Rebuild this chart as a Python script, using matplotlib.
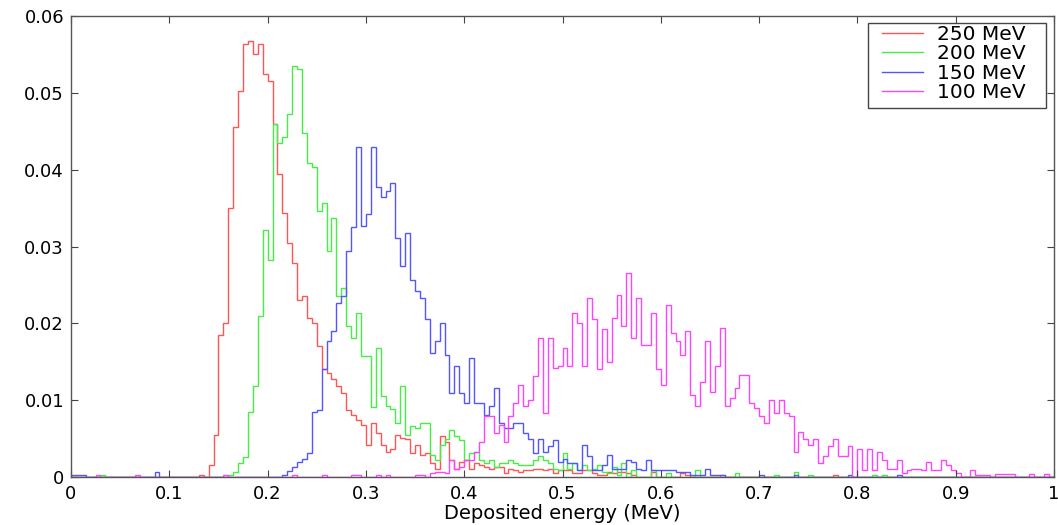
import matplotlib

matplotlib.use("Agg")

import matplotlib.pyplot as plt
import numpy as np
from matplotlib.legend_handler import HandlerLine2D
from matplotlib.lines import Line2D
from matplotlib.patches import Rectangle

N_BINS = 200
BIN_EDGES = np.linspace(0.0, 1.0, N_BINS + 1)

labels = ["250 MeV", "200 MeV", "150 MeV", "100 MeV"]
colors = ["#ff5555", "#44ee44", "#5555ff", "#ff44ff"]

# normalised counts per 0.005 MeV bin, listed from the first populated bin
red_start = 26
red_values = [
    0.0003, 0.0, 0.0015, 0.0055, 0.0185, 0.0200, 0.0350, 0.0455, 0.0502, 0.0563,
    0.0568, 0.0550, 0.0563, 0.0524, 0.0516, 0.0459, 0.0394, 0.0344, 0.0305, 0.0279,
    0.0230, 0.0235, 0.0207, 0.0200, 0.0170, 0.0140, 0.0135, 0.0127, 0.0118, 0.0109,
    0.0087, 0.0081, 0.0074, 0.0068, 0.0042, 0.0070, 0.0057, 0.0042, 0.0033, 0.0037,
    0.0055, 0.0051, 0.0049, 0.0031, 0.0042, 0.0029, 0.0031, 0.0018, 0.0010, 0.0053,
    0.0046, 0.0022, 0.0011, 0.0020, 0.0022, 0.0011, 0.0018, 0.0016, 0.0013, 0.0011,
    0.0013, 0.0013, 0.0005, 0.0011, 0.0009, 0.0007, 0.0009, 0.0009, 0.0011, 0.0011,
    0.0009, 0.0011, 0.0005, 0.0009, 0.0009, 0.0009, 0.0005, 0.0005, 0.0009, 0.0009,
    0.0005, 0.0003, 0.0003, 0.0007, 0.0005, 0.0007, 0.0007, 0.0005, 0.0003, 0.0,
    0.0, 0.0, 0.0006, 0.0, 0.0, 0.0, 0.0, 0.0, 0.0005, 0.0003,
]
red_single_bins = [132, 155]
red_single_values = [0.0003, 0.0003]

green_start = 32
green_values = [
    0.0003, 0.0007, 0.0018, 0.0026, 0.0085, 0.0118, 0.0209, 0.0322, 0.0283, 0.0459,
    0.0435, 0.0442, 0.0472, 0.0535, 0.0531, 0.0448, 0.0409, 0.0404, 0.0346, 0.0357,
    0.0294, 0.0337, 0.0235, 0.0246, 0.0196, 0.0181, 0.0214, 0.0157, 0.0157, 0.0091,
    0.0168, 0.0105, 0.0092, 0.0088, 0.0070, 0.0118, 0.0055, 0.0066, 0.0064, 0.0070,
    0.0070, 0.0029, 0.0022, 0.0042, 0.0050, 0.0061, 0.0053, 0.0048, 0.0022, 0.0031,
    0.0033, 0.0022, 0.0018, 0.0022, 0.0013, 0.0018, 0.0018, 0.0022, 0.0018, 0.0016,
    0.0016, 0.0016, 0.0022, 0.0027, 0.0022, 0.0018, 0.0010, 0.0009, 0.0031, 0.0010,
    0.0018, 0.0009, 0.0016, 0.0009, 0.0011, 0.0016, 0.0007, 0.0005, 0.0013, 0.0003,
    0.0018, 0.0, 0.0009,
]
green_single_bins = [6, 118, 121, 127, 135, 143, 147, 150, 163, 165]
green_single_values = [0.0003, 0.0009, 0.0005, 0.0009, 0.0005,
                       0.0003, 0.0006, 0.0003, 0.0003, 0.0003]

blue_start = 43
blue_values = [
    0.0003, 0.0008, 0.0013, 0.0019, 0.0024, 0.0031, 0.0085, 0.0087, 0.0140, 0.0177,
    0.0190, 0.0227, 0.0235, 0.0294, 0.0325, 0.0429, 0.0327, 0.0342, 0.0429, 0.0377,
    0.0364, 0.0372, 0.0383, 0.0311, 0.0274, 0.0318, 0.0257, 0.0242, 0.0233, 0.0205,
    0.0161, 0.0177, 0.0200, 0.0159, 0.0109, 0.0144, 0.0109, 0.0096, 0.0155, 0.0096,
    0.0096, 0.0081, 0.0092, 0.0116, 0.0070, 0.0064, 0.0064, 0.0070, 0.0070, 0.0057,
    0.0050, 0.0031, 0.0050, 0.0033, 0.0040, 0.0048, 0.0020, 0.0024, 0.0018, 0.0018,
    0.0009, 0.0042, 0.0027, 0.0009, 0.0009, 0.0016, 0.0029, 0.0011, 0.0011, 0.0011,
    0.0022, 0.0020, 0.0011, 0.0009, 0.0022, 0.0009, 0.0009, 0.0009, 0.0009, 0.0009,
    0.0007, 0.0007, 0.0007, 0.0003, 0.0003, 0.0003, 0.0011, 0.0003, 0.0003, 0.0003,
]
blue_single_bins = [0, 1, 2, 17, 140, 147, 158, 168]
blue_single_values = [0.0003, 0.0003, 0.0003, 0.0006, 0.0003, 0.0003, 0.0003, 0.0003]

magenta_start = 73
magenta_values = [
    0.0005, 0.0007, 0.0007, 0.0005, 0.0022, 0.0011, 0.0013, 0.0022, 0.0022, 0.0033,
    0.0046, 0.0079, 0.0079, 0.0057, 0.0068, 0.0046, 0.0079, 0.0096, 0.0120, 0.0092,
    0.0100, 0.0131, 0.0181, 0.0083, 0.0181, 0.0142, 0.0144, 0.0168, 0.0144, 0.0213,
    0.0200, 0.0144, 0.0233, 0.0205, 0.0140, 0.0192, 0.0150, 0.0207, 0.0237, 0.0196,
    0.0266, 0.0181, 0.0233, 0.0172, 0.0172, 0.0214, 0.0140, 0.0120, 0.0224, 0.0187,
    0.0177, 0.0159, 0.0190, 0.0107, 0.0092, 0.0124, 0.0177, 0.0111, 0.0144, 0.0194,
    0.0092, 0.0103, 0.0116, 0.0133, 0.0133, 0.0096, 0.0090, 0.0079, 0.0070, 0.0100,
    0.0083, 0.0100, 0.0083, 0.0079, 0.0033, 0.0059, 0.0050, 0.0042, 0.0050, 0.0018,
    0.0027, 0.0040, 0.0050, 0.0027, 0.0027, 0.0040, 0.0, 0.0037, 0.0009, 0.0037,
    0.0009, 0.0033, 0.0022, 0.0011, 0.0011, 0.0022, 0.0005, 0.0009, 0.0011, 0.0011,
    0.0009, 0.0019, 0.0009, 0.0009, 0.0022, 0.0016, 0.0009, 0.0005, 0.0, 0.0,
    0.0009, 0.0003, 0.0003, 0.0003, 0.0, 0.0004, 0.0004, 0.0004, 0.0004, 0.0,
    0.0, 0.0, 0.0004, 0.0, 0.0, 0.0004,
]
magenta_single_bins = [5, 13, 31, 45, 51, 57, 58, 62, 64, 70, 71]
magenta_single_values = [0.0003] * len(magenta_single_bins)

x_ticks = np.round(np.arange(0.0, 1.0001, 0.1), 1)
x_tick_labels = ["0", "0.1", "0.2", "0.3", "0.4", "0.5", "0.6", "0.7", "0.8", "0.9", "1"]
y_ticks = np.round(np.arange(0.0, 0.06001, 0.01), 2)
y_tick_labels = ["0", "0.01", "0.02", "0.03", "0.04", "0.05", "0.06"]


def histogram(start, values, single_bins, single_values):
    counts = np.zeros(N_BINS)
    counts[start:start + len(values)] = values
    counts[single_bins] = single_values
    return counts


series = [
    histogram(red_start, red_values, red_single_bins, red_single_values),
    histogram(green_start, green_values, green_single_bins, green_single_values),
    histogram(blue_start, blue_values, blue_single_bins, blue_single_values),
    histogram(magenta_start, magenta_values, magenta_single_bins, magenta_single_values),
]

fig = plt.figure(figsize=(10.58, 5.25), dpi=100)
ax = fig.add_axes([71 / 1058, 48 / 525, 983 / 1058, 461 / 525])

for counts, color in zip(series, colors):
    ax.stairs(counts, BIN_EDGES, color=color, linewidth=1.0, baseline=0.0)

ax.set_xlim(0.0, 1.0)
ax.set_ylim(0.0, 0.06)
ax.set_xticks(x_ticks)
ax.set_xticklabels(x_tick_labels)
ax.set_yticks(y_ticks)
ax.set_yticklabels(y_tick_labels)
ax.tick_params(axis="both", direction="in", length=5, width=0.8, color="#444444",
               top=True, right=True, labelsize=13, labelcolor="#000000")
ax.tick_params(axis="x", pad=6.0)
ax.tick_params(axis="y", pad=5.0)
for spine in ax.spines.values():
    spine.set_color("#555555")
    spine.set_linewidth(1.0)

ax.set_xlabel("Deposited energy (MeV)", fontsize=14, color="#000000", labelpad=0.3)

# legend box drawn on its own so the padding can differ left/right and top/bottom
ax.add_patch(Rectangle((0.8111, 0.8004), 0.9919 - 0.8111, 0.9855 - 0.8004,
                       transform=ax.transAxes, facecolor="white", edgecolor="#444444",
                       linewidth=1.0, zorder=4))
handles = [Line2D([], [], color=c, linewidth=1.0) for c in colors]
ax.legend(handles, labels, loc="upper left", bbox_to_anchor=(0.8247, 0.9805),
          frameon=False, fontsize=14.5, borderpad=0.0, borderaxespad=0.0,
          labelspacing=0.02, handlelength=2.07, handletextpad=0.67,
          handler_map={Line2D: HandlerLine2D()}).set_zorder(5)

fig.savefig("out.png", dpi=100)
